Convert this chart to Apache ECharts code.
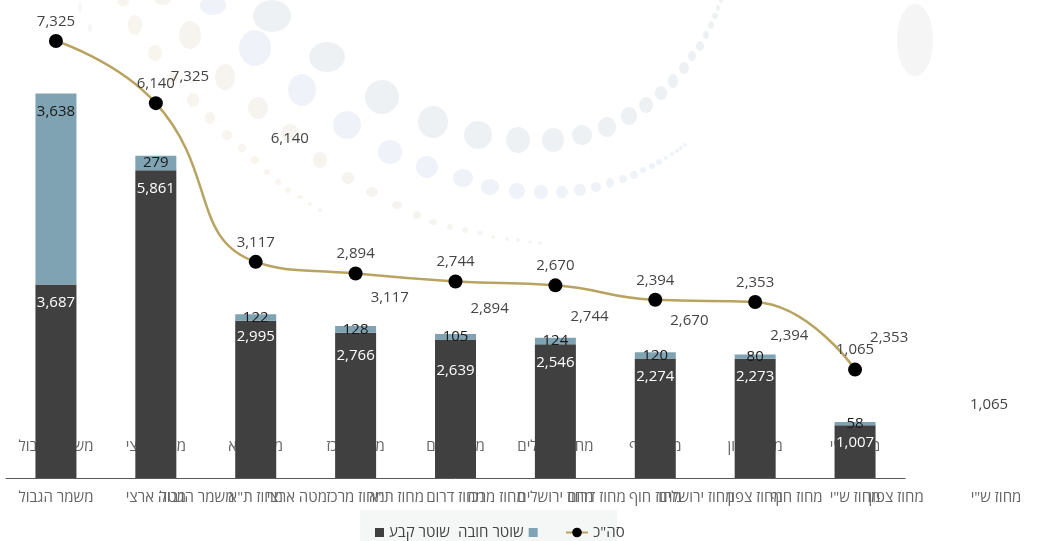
<!DOCTYPE html>
<html><head><meta charset="utf-8">
<script src="https://cdn.jsdelivr.net/npm/echarts@6/dist/echarts.min.js"></script>
<style>html,body{margin:0;padding:0;background:#fff}#c{width:1038px;height:541px}</style>
</head><body><div id="c"></div>
<script>
const categories = ['משמר הגבול','מטה ארצי','מחוז ת"א','מחוז מרכז','מחוז דרום','מחוז ירושלים','מחוז חוף','מחוז צפון','מחוז ש"י'];
const permanent = [3687,5861,2995,2766,2639,2546,2274,2273,1007];
const conscript = [3638,279,122,128,105,124,120,80,58];
const total = [7325,6140,3117,2894,2744,2670,2394,2353,1065];
const seriesNames = ['שוטר קבע','שוטר חובה','סה"כ'];

const FONT = "'Open Sans', 'Liberation Sans', 'DejaVu Sans', sans-serif";
const fmt = v => Number(v).toLocaleString('en-US');

// decorative background dots [cx, cy, rx, ry, color]
const G='#eef1f3', B='#eff3f9', C='#f5f4ef', D='#f8f4ee';
const deco = [
 [272,16,19,16,G],[327,57,18,15,G],[382,97,17,17,G],[433,122,15,16,G],[478,135,14,14,G],[518,140,12,13,G],[553,140,11,12,G],[582,135,10,10,G],[607,127,9,10,G],[629,116,8,9,G],[646,105,7,8,G],[661,93,6,7,G],[673,81,5,7,G],[684,68,5,6,G],[692,56,4,5,G],[700,46,4,5,G],[706,35,3,4,G],[711,25,3,4,G],[715,16,3,3,G],[718,8,2,3,G],[721,1,2,2,G],
 [213,5,13,10,B],[255,48,16,18,B],[302,90,14,16,B],[347,125,14,14,B],[390,152,12,12,B],[427,167,11,11,B],[463,178,10,9,B],[490,187,9,8,B],[517,191,8,8,B],[541,192,7,7,B],[562,192,6,6,B],[580,190,6,6,B],[596,187,5,5,B],[610,183,4,5,B],[623,179,4,4,B],[634,175,4,4,B],[643,170,3,3,B],[652,166,3,3,B],[659,162,3,3,B],[666,158,2,2,B],[672,154,2,2,B],[677,151,2,2,B],[681,148,2,2,B],[685,145,2,2,B],
 [163,0,8,5,C],[190,35,11,14,C],[225,77,10,13,C],[258,108,10,11,C],[290,133,9,9,C],[320,160,7,8,C],[348,178,6,6,C],[372,192,6,5,C],[397,205,5,4,C],[417,215,4,4,C],[433,222,4,3,C],[450,227,3,3,C],[465,230,3,3,C],[480,233,3,2,C],[493,237,2,2,C],[507,239,2,2,C],[518,240,2,2,C],[530,242,2,1.5,C],[540,243,2,1.5,C],
 [123,2,6,4,D],[135,25,7,10,D],[155,53,7,8,D],[173,78,5,6,D],[193,100,6,7,D],[210,118,5,6,D],[227,135,5,5,D],[242,148,4,4,D],[255,160,4,4,D],[267,172,3,3,D],[278,182,3,3,D],[288,190,3,3,D],[300,197,3,2,D],[310,204,2,2,D],[320,210,2,2,D],
 [80,7,2,5,'#f6f6f6'],[90,28,2,5,'#f6f6f6'],
 [915,40,18,36,'#f5f5f5']
];

const darkDist = {2:7, 3:14, 4:22};
const permData = permanent.map((v,i)=>({value:v, label:{distance: darkDist[i]!==undefined?darkDist[i]:9}}));
const consData = conscript.map((v,i)=> i===0 ? {value:v, label:{position:'insideTop', distance:9}} : {value:v});

const chart = echarts.init(document.getElementById('c'), null, {renderer:'canvas'});
const axisLabelBase = {color:'#666', fontSize:15, fontFamily:FONT, interval:0, margin:12};
const legendText = {color:'#444', fontSize:15, fontFamily:FONT};
const option = {
  animation:false,
  textStyle:{fontFamily:FONT},
  grid:[
    {left:6, width:899, top:5.5, bottom:63, outerBoundsMode:'none', containLabel:false},
    {left:147, width:899, top:5.5, bottom:63, outerBoundsMode:'none', containLabel:false}
  ],
  xAxis:[
    {type:'category', gridIndex:0, data:categories, axisLine:{lineStyle:{color:'#595959', width:1}}, axisTick:{show:false}, axisLabel:axisLabelBase, z:0},
    {type:'category', gridIndex:0, data:categories, position:'bottom', offset:-51, axisLine:{show:false}, axisTick:{show:false}, axisLabel:axisLabelBase, z:0},
    {type:'category', gridIndex:1, data:categories, axisLine:{show:false}, axisTick:{show:false}, axisLabel:axisLabelBase, z:0}
  ],
  yAxis:[
    {type:'value', gridIndex:0, min:0, max:9000, show:false, splitLine:{show:false}},
    {type:'value', gridIndex:0, min:-1000, max:8000, show:false, splitLine:{show:false}},
    {type:'value', gridIndex:1, min:0, max:9000, show:false, splitLine:{show:false}}
  ],
  legend:[
    {data:[seriesNames[0]], left:370, top:520, icon:'rect', itemWidth:9, itemHeight:9, align:'left', textStyle:legendText},
    {data:[seriesNames[1]], left:453, top:520, icon:'rect', itemWidth:9, itemHeight:9, align:'right', textStyle:legendText},
    {data:[seriesNames[2]], left:560, top:520, itemWidth:22, itemHeight:12, align:'left', textStyle:legendText}
  ],
  graphic:[
    ...deco.map(d=>({type:'ellipse', z:-10, silent:true, shape:{cx:d[0], cy:d[1], rx:d[2], ry:d[3]}, style:{fill:d[4]}})),
    {type:'rect', z:-5, silent:true, shape:{x:360, y:510, width:257, height:31}, style:{fill:'#f5f7f7'}}
  ],
  series:[
    {name:seriesNames[0], type:'bar', stack:'s', xAxisIndex:0, yAxisIndex:0, barWidth:41, data:permData,
     itemStyle:{color:'#404040'},
     label:{show:true, position:'insideTop', color:'#fff', fontSize:15, fontFamily:FONT, lineHeight:18, formatter:p=>fmt(p.value)}},
    {name:seriesNames[1], type:'bar', stack:'s', xAxisIndex:0, yAxisIndex:0, barWidth:41, data:consData,
     itemStyle:{color:'#7fa3b2'},
     label:{show:true, position:'inside', color:'#1a1a1a', fontSize:15, fontFamily:FONT, lineHeight:18, formatter:p=>fmt(p.value)}},
    {name:seriesNames[2], type:'line', xAxisIndex:0, yAxisIndex:1, data:total, smooth:0.5,
     symbol:'circle', symbolSize:14, itemStyle:{color:'#000'},
     lineStyle:{color:'#b9a361', width:2.5}, z:5,
     label:{show:true, position:'top', distance:5, color:'#444', fontSize:15, fontFamily:FONT, formatter:p=>fmt(p.value)}},
    {name:'dup', type:'line', xAxisIndex:0, yAxisIndex:1, data:total, symbol:'circle', symbolSize:14,
     itemStyle:{color:'rgba(0,0,0,0)'}, lineStyle:{opacity:0}, silent:true, z:4,
     label:{show:true, position:'top', distance:5, offset:[134,55], color:'#444', fontSize:15, fontFamily:FONT, formatter:p=>fmt(p.value)}}
  ]
};
chart.setOption(option);
</script>
</body></html>
